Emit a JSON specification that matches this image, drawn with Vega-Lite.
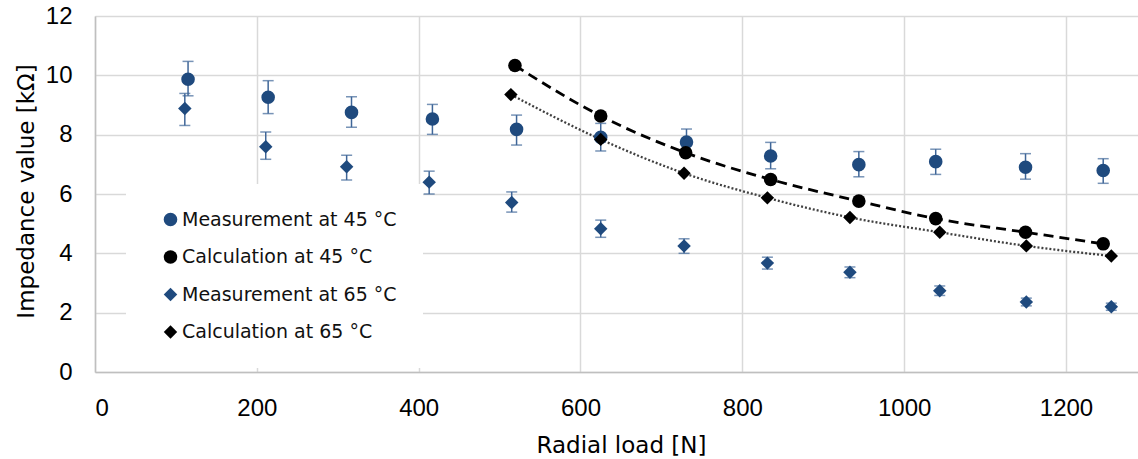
{
  "$schema": "https://vega.github.io/schema/vega-lite/v6.json",
  "autosize": {"type": "none"},
  "padding": {"left": 95, "top": 16, "right": 0, "bottom": 87},
  "width": 1043,
  "height": 356,
  "background": "white",
  "config": {
    "view": {"stroke": null},
    "axis": {
      "gridColor": "#d9d9d9",
      "gridWidth": 1.5,
      "domainColor": "#bfbfbf",
      "domainWidth": 1.5,
      "ticks": false,
      "labelFont": "Liberation Sans",
      "labelFontSize": 24,
      "labelColor": "#000000",
      "titleFont": "DejaVu Sans",
      "titleFontSize": 23,
      "titleFontWeight": "normal",
      "titleColor": "#000000"
    },
    "legend": {
      "orient": "none",
      "legendX": 31,
      "legendY": 168,
      "fillColor": "white",
      "padding": 26,
      "symbolOffset": 9,
      "symbolSize": 160,
      "symbolStrokeWidth": 0,
      "labelFont": "DejaVu Sans",
      "labelFontSize": 19,
      "labelColor": "#111111",
      "labelOffset": 2,
      "labelLimit": 400,
      "rowPadding": 17.5,
      "title": null
    }
  },
  "datasets": {
    "pts": [
      {"series": "Measurement at 45 °C", "load": 115, "z": 9.87, "lo": 9.31, "hi": 10.47},
      {"series": "Measurement at 45 °C", "load": 214, "z": 9.26, "lo": 8.71, "hi": 9.82},
      {"series": "Measurement at 45 °C", "load": 317, "z": 8.75, "lo": 8.25, "hi": 9.28},
      {"series": "Measurement at 45 °C", "load": 417, "z": 8.53, "lo": 8.01, "hi": 9.02},
      {"series": "Measurement at 45 °C", "load": 521, "z": 8.18, "lo": 7.65, "hi": 8.66},
      {"series": "Measurement at 45 °C", "load": 625, "z": 7.91, "lo": 7.45, "hi": 8.38},
      {"series": "Measurement at 45 °C", "load": 731, "z": 7.75, "lo": 7.30, "hi": 8.19},
      {"series": "Measurement at 45 °C", "load": 835, "z": 7.28, "lo": 6.85, "hi": 7.74},
      {"series": "Measurement at 45 °C", "load": 944, "z": 6.99, "lo": 6.58, "hi": 7.43},
      {"series": "Measurement at 45 °C", "load": 1039, "z": 7.09, "lo": 6.66, "hi": 7.51},
      {"series": "Measurement at 45 °C", "load": 1150, "z": 6.90, "lo": 6.50, "hi": 7.36},
      {"series": "Measurement at 45 °C", "load": 1246, "z": 6.79, "lo": 6.36, "hi": 7.19},
      {"series": "Measurement at 65 °C", "load": 111, "z": 8.88, "lo": 8.31, "hi": 9.39},
      {"series": "Measurement at 65 °C", "load": 211, "z": 7.59, "lo": 7.17, "hi": 8.09},
      {"series": "Measurement at 65 °C", "load": 311, "z": 6.92, "lo": 6.47, "hi": 7.31},
      {"series": "Measurement at 65 °C", "load": 413, "z": 6.40, "lo": 6.00, "hi": 6.77},
      {"series": "Measurement at 65 °C", "load": 515, "z": 5.71, "lo": 5.39, "hi": 6.07},
      {"series": "Measurement at 65 °C", "load": 625, "z": 4.83, "lo": 4.54, "hi": 5.12},
      {"series": "Measurement at 65 °C", "load": 728, "z": 4.25, "lo": 4.00, "hi": 4.49},
      {"series": "Measurement at 65 °C", "load": 831, "z": 3.67, "lo": 3.47, "hi": 3.87},
      {"series": "Measurement at 65 °C", "load": 933, "z": 3.36, "lo": 3.18, "hi": 3.54},
      {"series": "Measurement at 65 °C", "load": 1044, "z": 2.74, "lo": 2.58, "hi": 2.90},
      {"series": "Measurement at 65 °C", "load": 1151, "z": 2.36, "lo": 2.23, "hi": 2.49},
      {"series": "Measurement at 65 °C", "load": 1256, "z": 2.20, "lo": 2.08, "hi": 2.32},
      {"series": "Calculation at 45 °C", "load": 519, "z": 10.33},
      {"series": "Calculation at 45 °C", "load": 625, "z": 8.63},
      {"series": "Calculation at 45 °C", "load": 730, "z": 7.39},
      {"series": "Calculation at 45 °C", "load": 835, "z": 6.49},
      {"series": "Calculation at 45 °C", "load": 944, "z": 5.76},
      {"series": "Calculation at 45 °C", "load": 1039, "z": 5.17},
      {"series": "Calculation at 45 °C", "load": 1150, "z": 4.71},
      {"series": "Calculation at 45 °C", "load": 1246, "z": 4.32},
      {"series": "Calculation at 65 °C", "load": 514, "z": 9.35},
      {"series": "Calculation at 65 °C", "load": 625, "z": 7.84},
      {"series": "Calculation at 65 °C", "load": 728, "z": 6.70},
      {"series": "Calculation at 65 °C", "load": 831, "z": 5.87},
      {"series": "Calculation at 65 °C", "load": 933, "z": 5.21},
      {"series": "Calculation at 65 °C", "load": 1044, "z": 4.71},
      {"series": "Calculation at 65 °C", "load": 1151, "z": 4.25},
      {"series": "Calculation at 65 °C", "load": 1256, "z": 3.91}
    ]
  },
  "data": {"name": "pts"},
  "encoding": {
    "x": {
      "field": "load",
      "type": "quantitative",
      "scale": {"domain": [0, 1289], "nice": false},
      "axis": {
        "values": [0, 200, 400, 600, 800, 1000, 1200],
        "format": "d",
        "title": "Radial load [N]",
        "labelPadding": 24,
        "titleX": 526,
        "titleY": 80,
        "titleBaseline": "alphabetic",
        "titleAnchor": "middle"
      }
    }
  },
  "layer": [
    {
      "transform": [{"filter": "isValid(datum.lo)"}],
      "mark": {
        "type": "errorbar",
        "color": "#3f6698",
        "thickness": 1.5,
        "ticks": {"size": 11, "thickness": 1.5, "color": "#3f6698"}
      },
      "encoding": {
        "y": {"field": "lo", "type": "quantitative", "title": "Impedance value [kΩ]"},
        "y2": {"field": "hi"}
      }
    },
    {
      "transform": [{"filter": "datum.series == 'Calculation at 45 °C'"}],
      "mark": {"type": "line", "color": "#000000", "strokeWidth": 2.8, "strokeDash": [10, 6], "interpolate": "monotone"},
      "encoding": {
        "y": {"field": "z", "type": "quantitative"}
      }
    },
    {
      "transform": [{"filter": "datum.series == 'Calculation at 65 °C'"}],
      "mark": {"type": "line", "color": "#404040", "strokeWidth": 2.3, "strokeDash": [2, 2], "interpolate": "monotone"},
      "encoding": {
        "y": {"field": "z", "type": "quantitative"}
      }
    },
    {
      "mark": {"type": "point", "filled": true, "opacity": 1},
      "encoding": {
        "y": {
          "field": "z",
          "type": "quantitative",
          "scale": {"domain": [0, 12], "nice": false},
          "axis": {
            "values": [0, 2, 4, 6, 8, 10, 12],
            "title": "Impedance value [kΩ]",
            "labelPadding": 23,
            "titleAngle": -90,
            "titleX": -62,
            "titleY": 175,
            "titleAlign": "center",
            "titleBaseline": "alphabetic"
          }
        },
        "color": {
          "field": "series",
          "type": "nominal",
          "scale": {
            "domain": ["Measurement at 45 °C", "Calculation at 45 °C", "Measurement at 65 °C", "Calculation at 65 °C"],
            "range": ["#1f4a7e", "#000000", "#1f4a7e", "#000000"]
          },
          "legend": {"title": null}
        },
        "shape": {
          "field": "series",
          "type": "nominal",
          "scale": {
            "domain": ["Measurement at 45 °C", "Calculation at 45 °C", "Measurement at 65 °C", "Calculation at 65 °C"],
            "range": ["circle", "circle", "diamond", "diamond"]
          },
          "legend": {"title": null}
        },
        "size": {
          "field": "series",
          "type": "nominal",
          "scale": {
            "domain": ["Measurement at 45 °C", "Calculation at 45 °C", "Measurement at 65 °C", "Calculation at 65 °C"],
            "range": [185, 180, 215, 215]
          },
          "legend": null
        }
      }
    }
  ]
}
